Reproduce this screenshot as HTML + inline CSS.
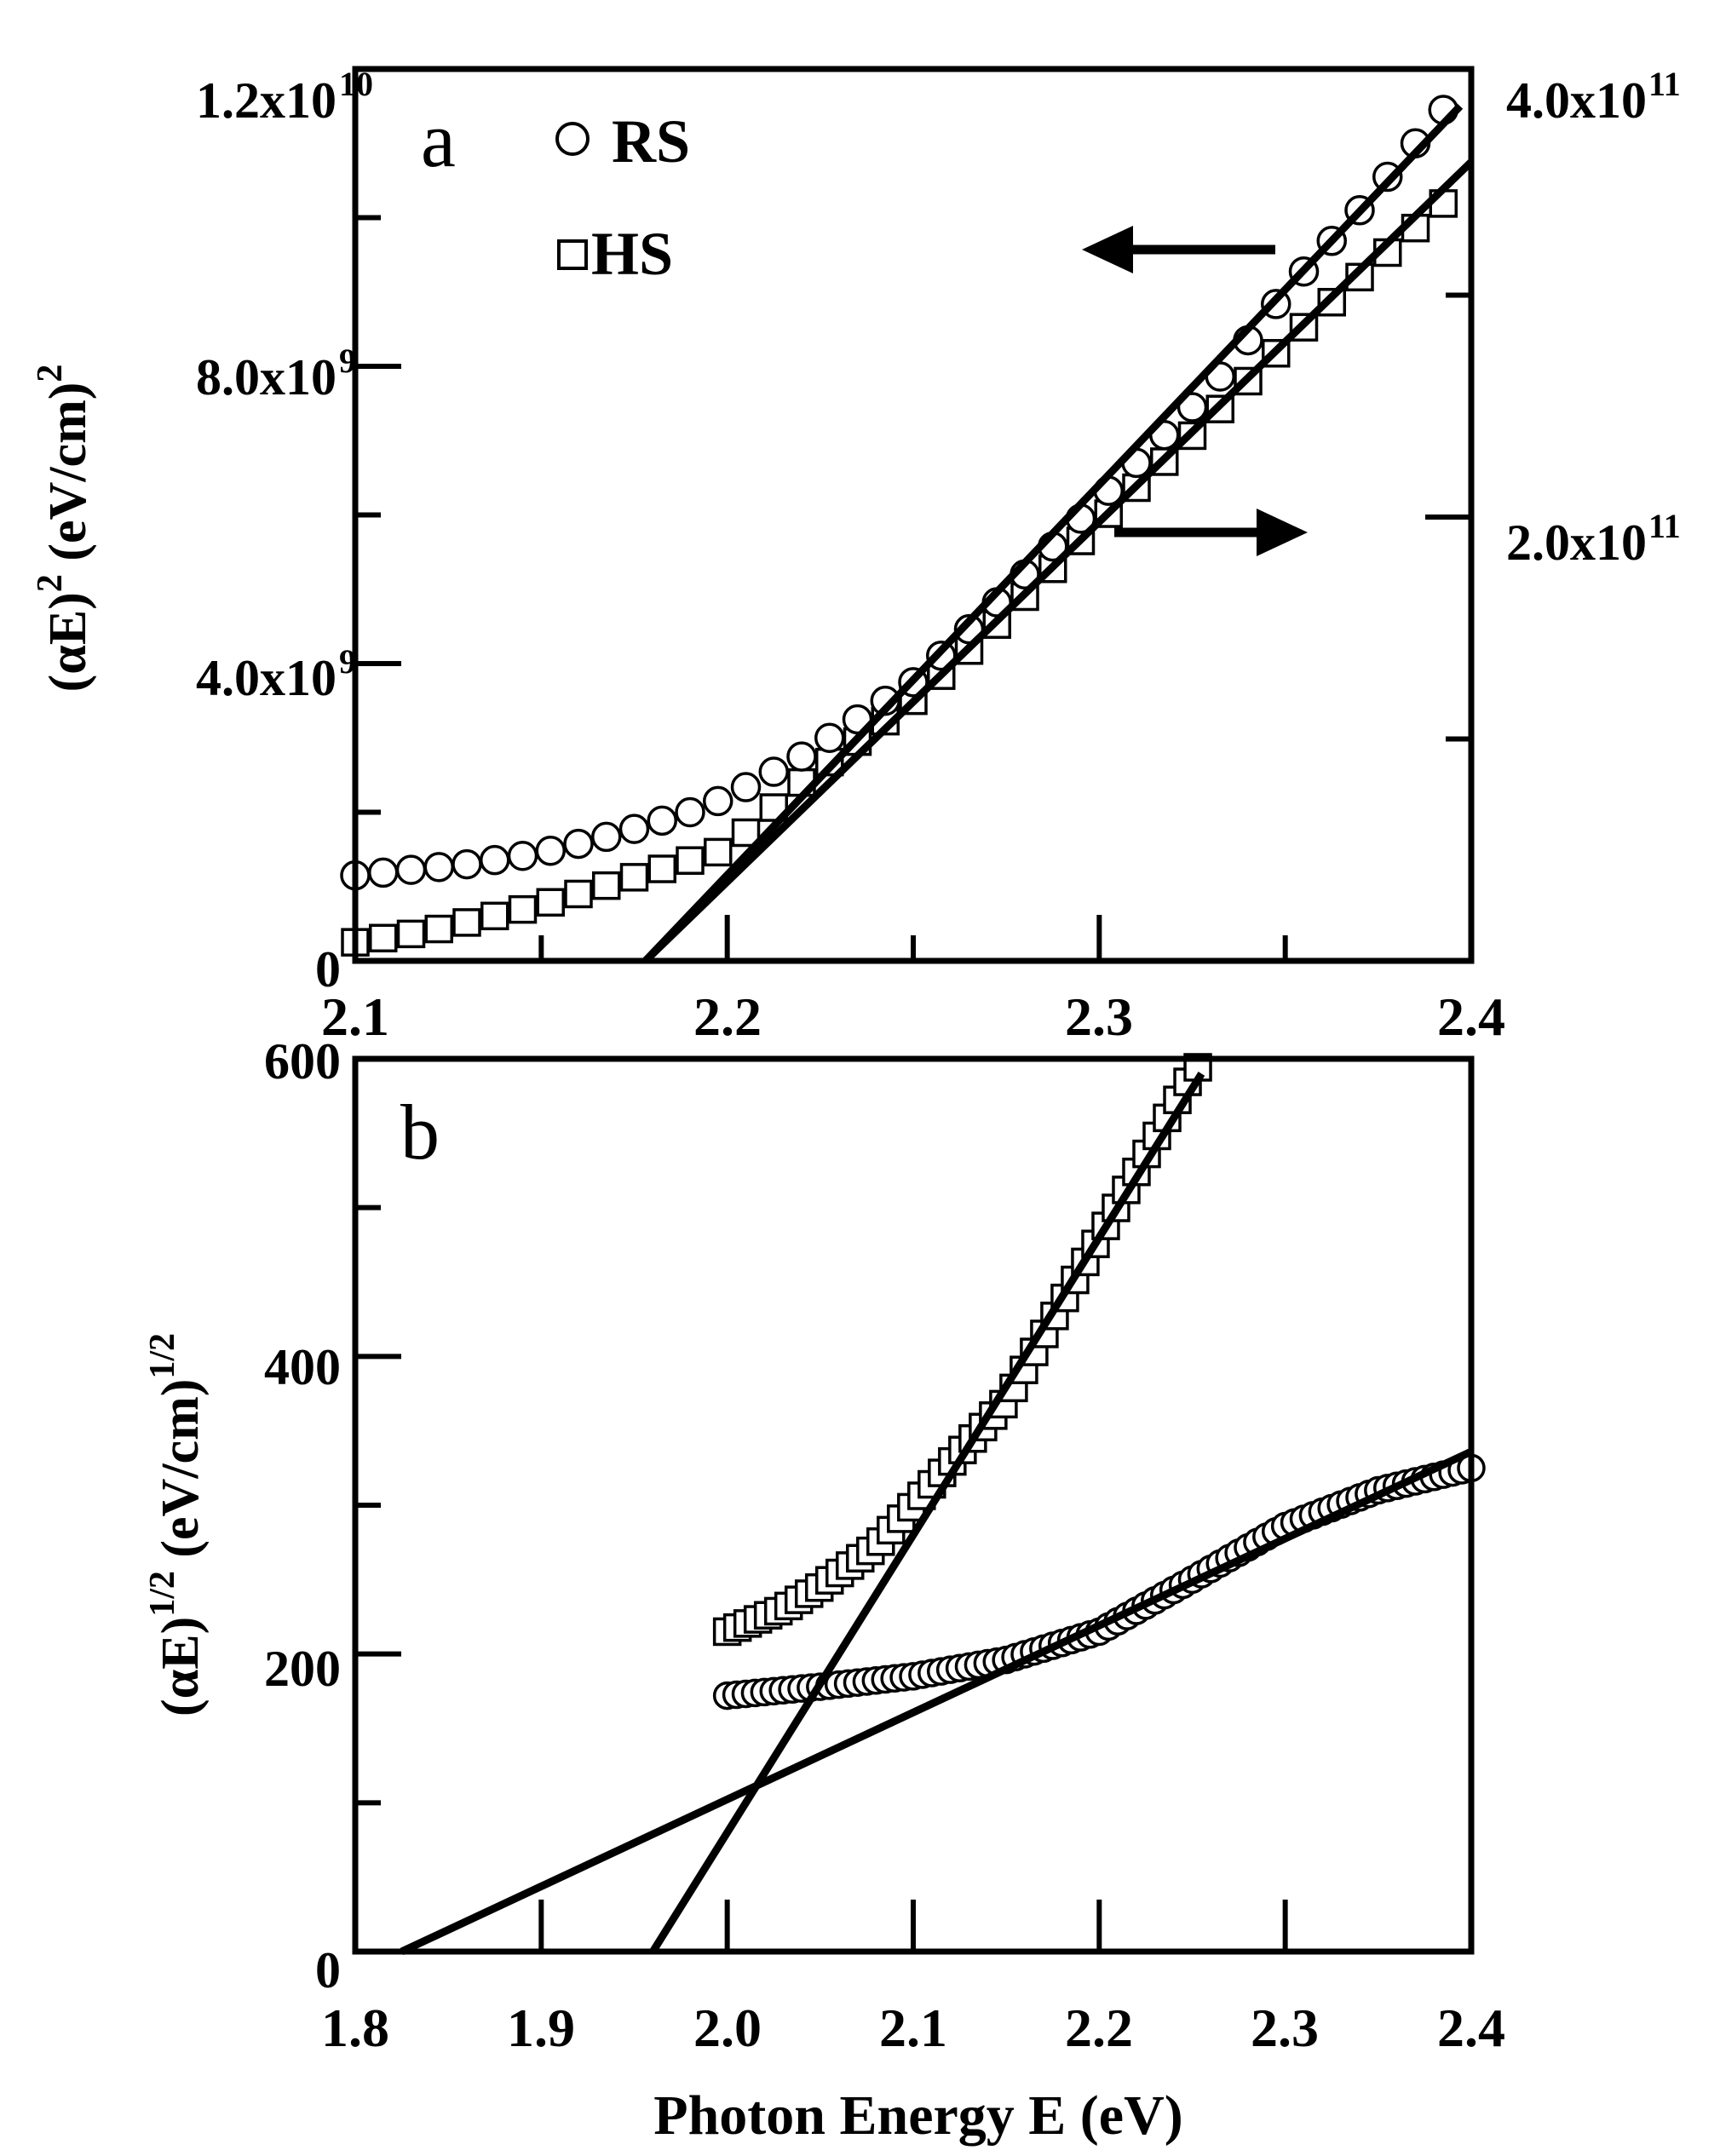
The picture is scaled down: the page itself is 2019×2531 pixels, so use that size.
<!DOCTYPE html>
<html><head><meta charset="utf-8"><style>
html,body{margin:0;padding:0;background:#fff}
svg{display:block}
text{font-family:"Liberation Serif",serif;font-weight:bold;fill:#000}
</style></head><body>
<svg id="s" width="2019" height="2531" viewBox="0 0 2019 2531" xmlns="http://www.w3.org/2000/svg">
<g id="d"></g>
<!-- frames -->
<rect x="417" y="81" width="1310" height="1047" fill="none" stroke="#000" stroke-width="7"/>
<rect x="417" y="1243" width="1310" height="1048" fill="none" stroke="#000" stroke-width="7"/>
<g stroke="#000" stroke-width="6" id="ticks"></g>
<!-- top plot labels -->
<text x="395" y="138" font-size="60" text-anchor="end">1.2x10</text>
<text x="398" y="112" font-size="40">10</text>
<text x="395" y="463" font-size="60" text-anchor="end">8.0x10</text>
<text x="398" y="437" font-size="40">9</text>
<text x="395" y="816" font-size="60" text-anchor="end">4.0x10</text>
<text x="398" y="790" font-size="40">9</text>
<text x="400" y="1158" font-size="60" text-anchor="end">0</text>
<text x="1768" y="138" font-size="60">4.0x10</text>
<text x="1935" y="112" font-size="40">11</text>
<text x="1768" y="657" font-size="60">2.0x10</text>
<text x="1935" y="631" font-size="40">11</text>
<text x="417" y="1215" font-size="64" text-anchor="middle">2.1</text>
<text x="854" y="1215" font-size="64" text-anchor="middle">2.2</text>
<text x="1290" y="1215" font-size="64" text-anchor="middle">2.3</text>
<text x="1727" y="1215" font-size="64" text-anchor="middle">2.4</text>
<text x="494" y="195" font-size="92" style="font-weight:normal">a</text>
<circle cx="672" cy="163" r="18" fill="none" stroke="#000" stroke-width="4"/>
<text x="718" y="190" font-size="72">RS</text>
<rect x="656" y="283" width="32" height="32" fill="none" stroke="#000" stroke-width="4"/>
<text x="694" y="322" font-size="72">HS</text>
<text transform="translate(100,620) rotate(-90)" font-size="62" text-anchor="middle">(αE)<tspan dy="-28" font-size="42">2</tspan><tspan dy="28"> (eV/cm)</tspan><tspan dy="-28" font-size="42">2</tspan></text>
<!-- arrows -->
<line x1="1497" y1="293" x2="1320" y2="293" stroke="#000" stroke-width="11"/>
<polygon points="1270,293 1330,265 1330,321" fill="#000"/>
<line x1="1308" y1="625" x2="1485" y2="625" stroke="#000" stroke-width="11"/>
<polygon points="1535,625 1475,597 1475,653" fill="#000"/>
<!-- bottom labels -->
<text x="400" y="1266" font-size="60" text-anchor="end">600</text>
<text x="400" y="1625" font-size="60" text-anchor="end">400</text>
<text x="400" y="1979" font-size="60" text-anchor="end">200</text>
<text x="400" y="2333" font-size="60" text-anchor="end">0</text>
<text x="417" y="2402" font-size="64" text-anchor="middle">1.8</text>
<text x="635" y="2402" font-size="64" text-anchor="middle">1.9</text>
<text x="854" y="2402" font-size="64" text-anchor="middle">2.0</text>
<text x="1072" y="2402" font-size="64" text-anchor="middle">2.1</text>
<text x="1290" y="2402" font-size="64" text-anchor="middle">2.2</text>
<text x="1508" y="2402" font-size="64" text-anchor="middle">2.3</text>
<text x="1727" y="2402" font-size="64" text-anchor="middle">2.4</text>
<text x="470" y="1360" font-size="92" style="font-weight:normal">b</text>
<text transform="translate(232,1790) rotate(-90)" font-size="62" text-anchor="middle">(αE)<tspan dy="-28" font-size="42">1/2</tspan><tspan dy="28"> (eV/cm)</tspan><tspan dy="-28" font-size="42">1/2</tspan></text>
<text x="1078" y="2505" font-size="66" text-anchor="middle">Photon Energy E (eV)</text>
</svg>
<script>
var NS="http://www.w3.org/2000/svg",d=document.getElementById("d"),tk=document.getElementById("ticks");
function el(t,a,p){var e=document.createElementNS(NS,t);for(var k in a)e.setAttribute(k,a[k]);(p||d).appendChild(e);return e;}
function interp(pts,x){for(var i=0;i<pts.length-1;i++){if(x<=pts[i+1][0]){var a=pts[i],b=pts[i+1];return a[1]+(b[1]-a[1])*(x-a[0])/(b[0]-a[0]);}}return pts[pts.length-1][1];}
var TX=function(e){return 417+(e-2.1)*4366.7},TY=function(v){return 1128-v*87.25};
var BX=function(e){return 417+(e-1.8)*2183.3},BY=function(v){return 2291-v*1.7467};
// ticks top
[[2.15,20],[2.2,36],[2.25,20],[2.3,36],[2.35,20]].forEach(function(t){var x=TX(t[0]);el("line",{x1:x,y1:1128,x2:x,y2:1128-t[1]*1.5},tk);});
[[2,20],[4,36],[6,20],[8,36],[10,20]].forEach(function(t){var y=TY(t[0]);el("line",{x1:417,y1:y,x2:417+t[1]*1.5,y2:y},tk);});
[1,2,3].forEach(function(i){var y=1128-i*260.5;el("line",{x1:1727,y1:y,x2:1727-(i==2?54:30),y2:y},tk);});
// ticks bottom
[1.9,2.0,2.1,2.2,2.3].forEach(function(e){var x=BX(e);el("line",{x1:x,y1:2291,x2:x,y2:2230},tk);});
[[100,30],[200,54],[300,30],[400,54],[500,30]].forEach(function(t){var y=BY(t[0]);el("line",{x1:417,y1:y,x2:417+t[1],y2:y},tk);});
// top data
var RS=[[2.1,1.15],[2.13,1.3],[2.15,1.45],[2.17,1.7],[2.19,2.0],[2.2,2.2],[2.22,2.75],[2.25,3.75],[2.27,4.7],[2.3,6.2],[2.33,7.7],[2.35,9.0],[2.37,10.1],[2.395,11.6]];
var HS=[[2.1,0.25],[2.12,0.4],[2.15,0.75],[2.17,1.05],[2.2,1.5],[2.22,2.4],[2.25,3.5],[2.27,4.4],[2.3,5.9],[2.33,7.3],[2.35,8.3],[2.37,9.2],[2.395,10.3]];
for(var e=2.1;e<=2.396;e+=0.0075){el("rect",{x:TX(e)-15,y:TY(interp(HS,e))-15,width:30,height:30,fill:"#fff",stroke:"#000","stroke-width":3.5});}
for(var e=2.1;e<=2.396;e+=0.0075){el("circle",{cx:TX(e),cy:TY(interp(RS,e)),r:16,fill:"#fff",stroke:"#000","stroke-width":3.5});}
el("line",{x1:TX(2.178),y1:1128,x2:TX(2.397),y2:TY(11.5),stroke:"#000","stroke-width":9});
el("line",{x1:TX(2.178),y1:1128,x2:TX(2.4),y2:TY(10.75),stroke:"#000","stroke-width":9});
// bottom data
var HB=[[2.0,215],[2.03,230],[2.05,245],[2.08,272],[2.1,300],[2.15,370],[2.2,480],[2.25,590],[2.257,600]];
var RB=[[2.0,172],[2.05,178],[2.1,185],[2.15,196],[2.2,215],[2.25,250],[2.3,286],[2.35,310],[2.4,325]];
for(var e=2.0;e<=2.2561;e+=0.0055){el("rect",{x:BX(e)-15,y:BY(interp(HB,e))-15,width:30,height:30,fill:"#fff",stroke:"#000","stroke-width":3.5});}
for(var e=2.0;e<=2.4001;e+=0.005){el("circle",{cx:BX(e),cy:BY(interp(RB,e)),r:15,fill:"#fff",stroke:"#000","stroke-width":3.5});}
el("line",{x1:BX(1.96),y1:2291,x2:BX(2.255),y2:BY(590),stroke:"#000","stroke-width":9});
el("line",{x1:BX(1.825),y1:2291,x2:BX(2.4),y2:BY(336),stroke:"#000","stroke-width":9});
</script>
</body></html>
